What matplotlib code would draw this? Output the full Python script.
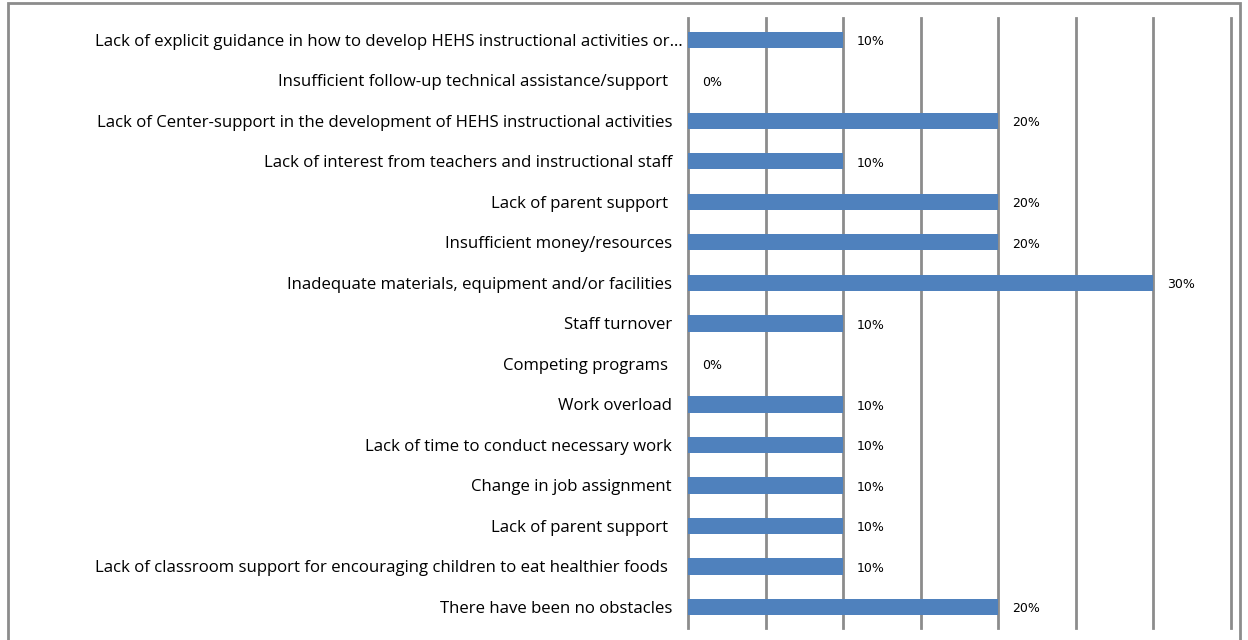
import matplotlib.pyplot as plt
from matplotlib.patches import Rectangle
from matplotlib.transforms import offset_copy

# obstacles, listed top to bottom
labels = [
    "Lack of explicit guidance in how to develop HEHS instructional activities or\u2026",
    "Insufficient follow-up technical assistance/support ",
    "Lack of Center-support in the development of HEHS instructional activities",
    "Lack of interest from teachers and instructional staff",
    "Lack of parent support ",
    "Insufficient money/resources",
    "Inadequate materials, equipment and/or facilities",
    "Staff turnover",
    "Competing programs ",
    "Work overload",
    "Lack of time to conduct necessary work",
    "Change in job assignment",
    "Lack of parent support ",
    "Lack of classroom support for encouraging children to eat healthier foods ",
    "There have been no obstacles",
]
values = [0.10, 0.00, 0.20, 0.10, 0.20, 0.20, 0.30, 0.10, 0.00, 0.10, 0.10, 0.10, 0.10, 0.10, 0.20]

plt.rcParams['font.family'] = ['Open Sans', 'DejaVu Sans']

fig = plt.figure(figsize=(12.48, 6.4), dpi=100)
ax = fig.add_axes([688 / 1248, 12 / 640, (1231 - 688) / 1248, 610 / 640])

pos = list(range(len(labels)))
ax.barh(pos, values, height=0.4, color='#4F81BD', zorder=3)
for p, v in zip(pos, values):
    ax.text(v + 0.009, p + 0.05, f"{v:.0%}", va='center', ha='left', fontsize=9,
            family='DejaVu Sans', color='black')

ax.set_xlim(0, 0.35)
ax.set_ylim(14.52, -0.54)
ax.set_xticks([i * 0.05 for i in range(8)])
ax.set_xticklabels([])
ax.tick_params(axis='x', length=0)
ax.grid(axis='x', color='#8c8c8c', linewidth=2, zorder=0)
for gl in ax.get_xgridlines():
    gl.set_clip_on(False)
ax.set_yticks(pos)
ax.set_yticklabels(labels, fontsize=12.1)
ax.tick_params(axis='y', length=0, pad=11.5)
for s in ax.spines.values():
    s.set_visible(False)

# the truncated first label sits closer to the axis
first = ax.get_yticklabels()[0]
first.set_transform(offset_copy(first.get_transform(), fig=fig, x=11, units='dots'))

# outer chart border
fig.patches.append(Rectangle((8 / 1248, -0.1), (1240 - 8) / 1248, 1.1 - 3 / 640,
                             transform=fig.transFigure, fill=False,
                             edgecolor='#8c8c8c', linewidth=2))

fig.savefig('out.png', dpi=100)
